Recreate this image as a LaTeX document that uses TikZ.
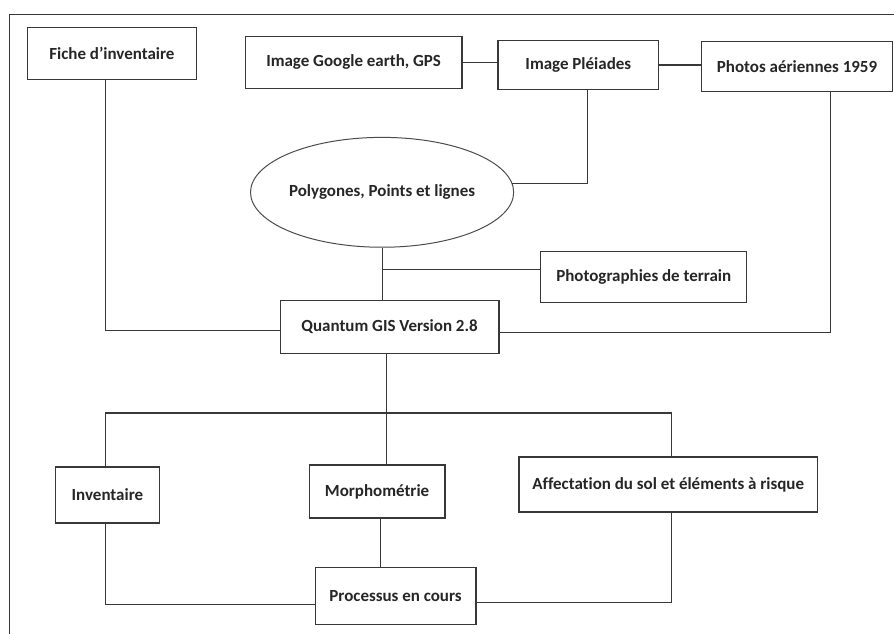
\documentclass[tikz,border=0pt]{standalone}
\usepackage{fontspec}
\setmainfont{Carlito}[Ligatures=NoCommon]
\usetikzlibrary{shapes.geometric}
\begin{document}
\begin{tikzpicture}[x=1pt,y=-1pt,
  every path/.style={draw=black!78,line width=1.1pt},
  box/.style={draw=black!78,line width=1.2pt,rectangle,inner sep=0pt,fill=white,
    font=\fontsize{17}{20}\selectfont\bfseries,text=black!85},
  ell/.style={draw=black!70,line width=1.0pt,ellipse,inner sep=0pt,
    font=\fontsize{17}{20}\selectfont\bfseries,text=black!85}]
\useasboundingbox (0,0) rectangle (894,633);
\fill[white] (0,0) rectangle (894,633);
% outer frame (partial)
\draw (9,640) -- (9,14) -- (900,14);
% nodes
\node[box,minimum width=169pt,minimum height=52pt] (fiche) at (111.5,53) {Fiche d’inventaire};
\node[box,minimum width=217pt,minimum height=52pt] (google) at (353.5,62) {Image Google earth, GPS};
\node[box,minimum width=161pt,minimum height=49pt] (pleiades) at (578.5,64.5) {Image Pléiades};
\node[box,minimum width=191pt,minimum height=50pt] (photos) at (797.5,66) {Photos aériennes 1959};
\node[ell,minimum width=254pt,minimum height=110pt] (poly) at (382,192) {Polygones, Points et lignes};
\node[box,minimum width=206pt,minimum height=51pt] (terrain) at (644,276.5) {Photographies de terrain};
\node[box,minimum width=219pt,minimum height=53pt] (qgis) at (389.5,326.5) {Quantum GIS Version 2.8};
\node[box,minimum width=104pt,minimum height=56pt] (inv) at (107,495) {Inventaire};
\node[box,minimum width=136pt,minimum height=53pt] (morph) at (377,491.5) {Morphométrie};
\node[box,minimum width=299pt,minimum height=55pt] (aff) at (668.5,484.5) {Affectation du sol et éléments à risque};
\node[box,minimum width=161pt,minimum height=57pt] (proc) at (395.5,596.5) {Processus en cours};
% helper coordinates
\coordinate (bus) at (0,413);
\coordinate (pleB) at ([xshift=9.5pt]pleiades.south);
\coordinate (ficheB) at ([xshift=-6.5pt]fiche.south);
\coordinate (qgisL) at ([yshift=-3.5pt]qgis.west);
\coordinate (photosB) at ([xshift=33.5pt]photos.south);
\coordinate (qgisR) at ([yshift=-5.5pt]qgis.east);
\coordinate (terrL) at ([yshift=7.5pt]terrain.west);
\coordinate (qgisB) at ([xshift=-3.5pt]qgis.south);
\coordinate (invT) at ([xshift=-2pt]inv.north);
\coordinate (invB) at ([xshift=-2pt]inv.south);
\coordinate (affT) at ([xshift=3.5pt]aff.north);
\coordinate (affB) at ([xshift=3.5pt]aff.south);
\coordinate (morphB) at ([xshift=3pt]morph.south);
\coordinate (procL) at ([yshift=-8.5pt]proc.west);
\coordinate (procR) at ([yshift=-6.5pt]proc.east);
% connectors
\draw (google.east) -- (google.east -| pleiades.west);
\draw (pleiades.east) -- (pleiades.east -| photos.west);
\draw (pleB) |- (poly.4);
\draw (poly.south) -- (poly.south |- qgis.north);
\draw (poly.south |- terrL) -- (terrL);
\draw (ficheB) |- (qgisL);
\draw (photosB) |- (qgisR);
\draw (qgisB) -- (qgisB |- bus);
\draw (invT) |- (affT |- bus) -- (affT);
\draw (qgisB |- bus) -- (qgisB |- morph.north);
\draw (invB) |- (procL);
\draw (affB) |- (procR);
\draw (morphB) -- (morphB |- proc.north);
\end{tikzpicture}
\end{document}
